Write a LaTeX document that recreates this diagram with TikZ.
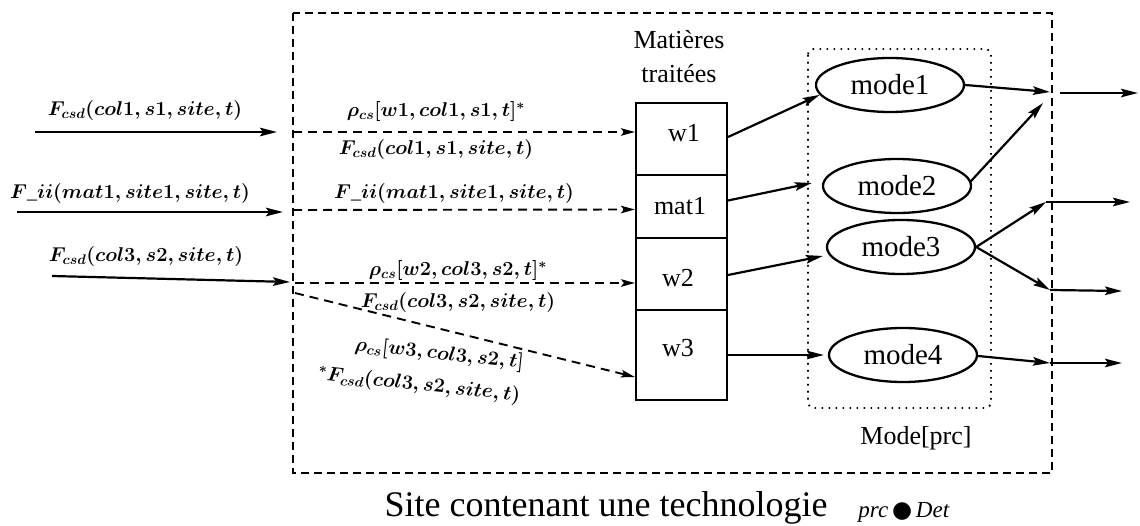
\RequirePackage{fix-cm}
\documentclass[tikz,border=0pt]{standalone}
\usepackage{fontspec}
\setmainfont{Liberation Serif}
\newfontfamily\dejavu{DejaVu Sans}
\usetikzlibrary{arrows.meta,shapes.geometric}
\begin{document}
\begin{tikzpicture}[x=1pt,y=-1pt,
  lab/.style={font=\fontsize{20}{24}\selectfont\boldmath, inner sep=0pt},
  big/.style={font=\fontsize{26}{34}\selectfont, inner sep=0pt},
  arr/.style={line width=2.2pt, -{Stealth[length=17pt,width=8.5pt,inset=3pt]}},
  darr/.style={line width=1.9pt, dash pattern=on 9pt off 6pt, -{Stealth[length=14pt,width=7.5pt,inset=3pt]}},
  outerbox/.style={line width=2.1pt, dash pattern=on 8pt off 5pt},
  dotbox/.style={line width=1.9pt, dash pattern=on 1.6pt off 5.4pt, rounded corners=6pt},
  modenode/.style={draw, ellipse, line width=2.3pt, minimum width=148pt, minimum height=54pt, inner sep=0pt, font=\fontsize{29}{32}\selectfont},
  cell/.style={draw, line width=2.1pt, minimum width=91pt, inner sep=0pt},
  celltext/.style={font=\fontsize{26}{28}\selectfont, inner sep=0pt}
]
\useasboundingbox (0,0) rectangle (1140,526);

% boxes
\draw[outerbox] (293,13) rectangle (1052,473);
\draw[dotbox] (808,49) rectangle (991,408);

% material cells
\node[cell, minimum height=72pt] (w1box) at (681.5,139) {};
\node[cell, minimum height=63pt] (mat1box) at (681.5,206.5) {};
\node[cell, minimum height=72pt] (w2box) at (681.5,274) {};
\node[cell, minimum height=90pt] (w3box) at (681.5,355) {};
\node[celltext] (w1t) at (684,133) {w1};
\node[celltext] (mat1t) at (680,206) {mat1};
\node[celltext] (w2t) at (678,278) {w2};
\node[celltext] (w3t) at (678,348) {w3};
\node[big, align=center] (mt) at (679,57) {Matières\\traitées};

% modes
\node[modenode] (m1) at (890,85) {mode1};
\node[modenode] (m2) at (897,186) {mode2};
\node[modenode] (m3) at (901,247) {mode3};
\node[modenode] (m4) at (903,355) {mode4};
\node[big] (mp) at (916,438) {Mode[prc]};

% caption
\node[font=\fontsize{36}{40}\selectfont, inner sep=0pt] (cap) at (606,508) {Site contenant une technologie};
\node[font=\fontsize{23}{26}\selectfont, inner sep=0pt] (det) at (904,512) {\textit{prc}\,{\dejavu ●}\,\textit{Det}};

% input arrows
\coordinate (i1s) at (35,132);  \coordinate (i1e) at (277,132);
\coordinate (i2s) at (17,212);  \coordinate (i2e) at (283,212);
\coordinate (i3s) at (52,276);  \coordinate (i3e) at (290,282);
\draw[arr] (i1s) -- (i1e);
\draw[arr] (i2s) -- (i2e);
\draw[arr] (i3s) -- (i3e);
\node[lab] (l1) at (145,111) {$F_{csd}(col1, s1, site, t)$};
\node[lab] (l2) at (130,194) {$F\_ii(mat1, site1, site, t)$};
\node[lab] (l3) at (146,257) {$F_{csd}(col3, s2, site, t)$};

% dashed inner arrows
\coordinate (d1s) at (293,132);
\coordinate (d2s) at (293,210);
\coordinate (d3s) at (295,283);
\coordinate (d4s) at (295,293);
\draw[darr] (d1s) -- ([yshift=7pt]w1box.west);
\draw[darr] (d2s) -- ([yshift=-3pt]mat1box.west);
\draw[darr] (d3s) -- ([yshift=-9pt]w2box.west);
\draw[darr] (d4s) -- ([yshift=-22pt]w3box.west);
\node[lab] (r1) at (436,112) {$\rho_{cs}[w1, col1, s1, t]^*$};
\node[lab] (f1) at (436,150) {$F_{csd}(col1, s1, site, t)$};
\node[lab] (f2) at (454,194) {$F\_ii(mat1, site1, site, t)$};
\node[lab] (r2) at (458,271) {$\rho_{cs}[w2, col3, s2, t]^*$};
\node[lab] (f3) at (458,303) {$F_{csd}(col3, s2, site, t)$};
\node[lab, font=\fontsize{20}{33}\selectfont\boldmath, align=right, rotate=-6] (r3) at (421,369)
  {$\rho_{cs}[w3, col3, s2, t]$\\${}^*F_{csd}(col3, s2, site, t)$};

% cells to modes
\draw[arr] ([yshift=2pt]w1box.east) -- (m1.188);
\draw[arr] ([yshift=6pt]mat1box.east) -- ([xshift=-10pt,yshift=3pt]m2.west);
\draw[arr] ([yshift=-1pt]w2box.east) -- ([xshift=-3pt,yshift=-9pt]m3.west);
\draw[arr] (w3box.east) -- ([xshift=-4pt]m4.west);

% outputs
\coordinate (o1) at (1050,92);   \coordinate (o1s) at (1060,93);  \coordinate (o1e) at (1138,93);
\coordinate (o2) at (1043,103);
\coordinate (o3a) at (1046,202); \coordinate (o3ae) at (1130,202);
\coordinate (o3b) at (1050,290); \coordinate (o3be) at (1122,291);
\coordinate (o4) at (1050,363);  \coordinate (o4e) at (1122,363);
\draw[arr] (m1.east) -- (o1);
\draw[arr] (o1s) -- (o1e);
\draw[arr] ([xshift=-2pt,yshift=4pt]m2.east) -- (o2);
\draw[arr] (m3.east) -- (o3a);
\draw[arr] (o3a) -- (o3ae);
\draw[arr] (m3.east) -- (o3b);
\draw[arr] (o3b) -- (o3be);
\draw[arr] ([yshift=-1pt]m4.east) -- (o4);
\draw[arr] (o4) -- (o4e);
\end{tikzpicture}
\end{document}
